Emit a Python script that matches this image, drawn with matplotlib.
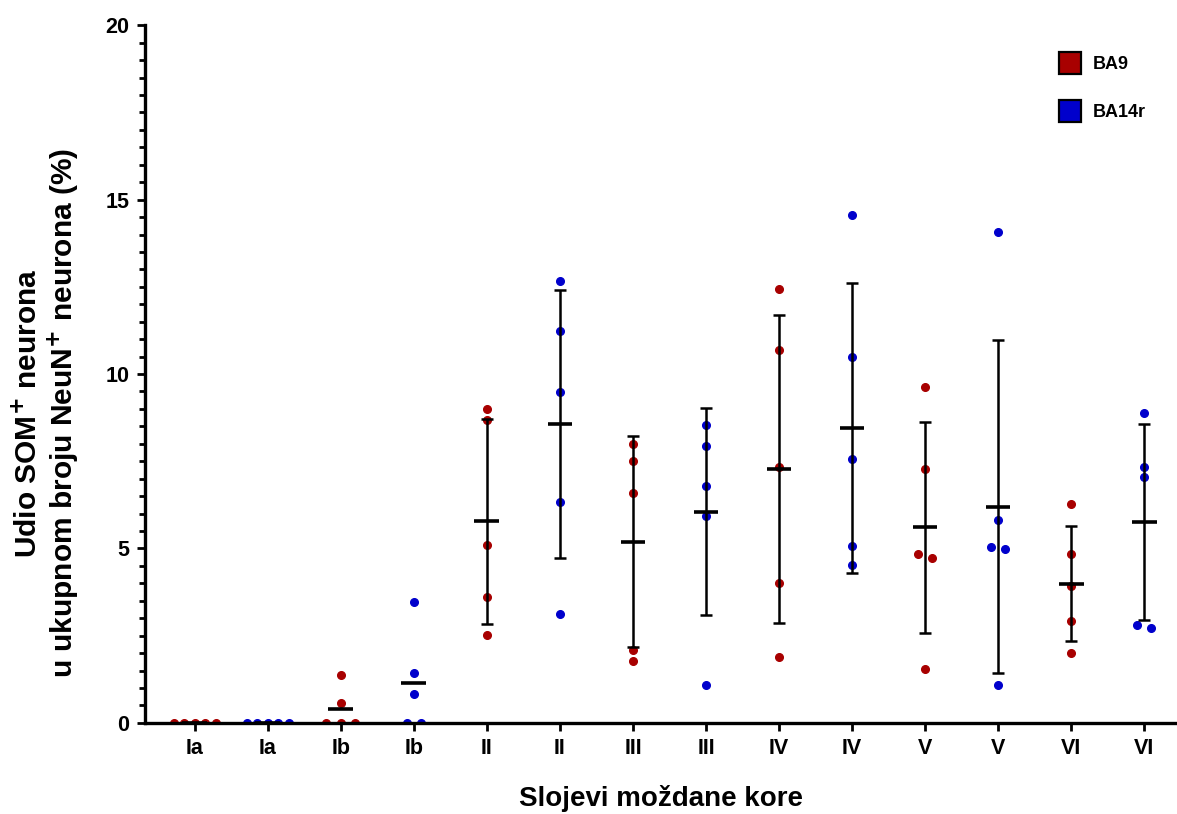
import numpy as np
import matplotlib.pyplot as plt
from matplotlib.lines import Line2D

plt.rcParams['font.family'] = ['Liberation Sans', 'DejaVu Sans']
plt.rcParams['font.weight'] = 'bold'

labels = ['Ia', 'Ia', 'Ib', 'Ib', 'II', 'II', 'III', 'III',
          'IV', 'IV', 'V', 'V', 'VI', 'VI']
region = ['BA9', 'BA14r'] * 7

values = [
    [0, 0, 0, 0, 0],
    [0, 0, 0, 0, 0],
    [1.37, 0.57, 0, 0, 0],
    [3.45, 1.43, 0.83, 0, 0],
    [9.0, 8.68, 5.10, 3.61, 2.52],
    [12.66, 11.23, 9.48, 6.33, 3.12],
    [7.99, 7.51, 6.59, 2.09, 1.78],
    [8.54, 7.94, 6.79, 5.93, 1.09],
    [12.45, 10.70, 7.34, 4.00, 1.88],
    [14.56, 10.50, 7.56, 5.08, 4.53],
    [9.63, 7.27, 4.84, 4.74, 1.54],
    [14.06, 5.82, 5.05, 4.98, 1.08],
    [6.28, 4.83, 3.91, 2.93, 2.01],
    [8.87, 7.33, 7.06, 2.81, 2.71],
]
show_sd = [False] * 4 + [True] * 10

colors = {'BA9': '#A80000', 'BA14r': '#0000CC'}


def spread(vals, tol=0.2):
    # spread overlapping dots sideways, like a scatter dot plot
    vals = sorted(vals, reverse=True)
    offs = np.zeros(len(vals))
    i = 0
    while i < len(vals):
        j = i
        while j + 1 < len(vals) and abs(vals[j + 1] - vals[i]) < tol:
            j += 1
        n = j - i + 1
        step = min(0.2, 0.72 / n)
        offs[i:j + 1] = (np.arange(n) - (n - 1) / 2) * step
        i = j + 1
    return vals, offs


fig = plt.figure(figsize=(11.77, 8.14), dpi=100)
ax = fig.add_axes([0.123, 0.112, 0.877, 0.857])

for k, vals in enumerate(values):
    c = colors[region[k]]
    v, off = spread(vals)
    ax.plot(k + off, v, 'o', color=c, ms=5.5, zorder=2)
    m = np.mean(vals)
    ax.plot([k - 0.17, k + 0.17], [m, m], color='black', lw=2.6,
            solid_capstyle='butt', zorder=3)
    if show_sd[k]:
        sd = np.std(vals, ddof=1)
        ax.errorbar(k, m, yerr=sd, fmt='none', ecolor='black',
                    elinewidth=1.8, capsize=4.4, capthick=1.8, zorder=3)

ax.set_xlim(-0.685, 13.45)
ax.set_ylim(0, 20)
ax.set_xticks(range(len(labels)))
ax.set_xticklabels(labels)
ax.set_yticks([0, 5, 10, 15, 20])
ax.set_yticks(np.arange(0, 20.01, 0.5), minor=True)
ax.tick_params(axis='both', which='major', width=2, length=6,
               labelsize=15.5, pad=5)
ax.tick_params(axis='y', which='minor', width=2, length=4)

for s in ['top', 'right']:
    ax.spines[s].set_visible(False)
for s in ['left', 'bottom']:
    ax.spines[s].set_linewidth(2.4)

ax.set_xlabel('Slojevi moždane kore', fontsize=20, fontweight='bold',
              labelpad=19)
ax.set_ylabel('Udio SOM$^{\\mathbf{+}}$ neurona\n'
              'u ukupnom broju NeuN$^{\\mathbf{+}}$ neurona (%)',
              fontsize=21.5, fontweight='bold', linespacing=1.1)
ax.yaxis.set_label_coords(-0.062, 0.444)

handles = [Line2D([], [], marker='s', ls='none', ms=16.5,
                  markerfacecolor=colors[r], markeredgecolor='black',
                  markeredgewidth=1.6) for r in ['BA9', 'BA14r']]
fig.legend(handles, ['BA9', 'BA14r'], loc='upper left', frameon=False,
           bbox_to_anchor=(0.9014, 0.931), bbox_transform=fig.transFigure,
           borderpad=0, borderaxespad=0, handlelength=1.0,
           handletextpad=0.77, labelspacing=1.72,
           prop={'weight': 'bold', 'size': 13})

fig.savefig('out.png', dpi=100)
